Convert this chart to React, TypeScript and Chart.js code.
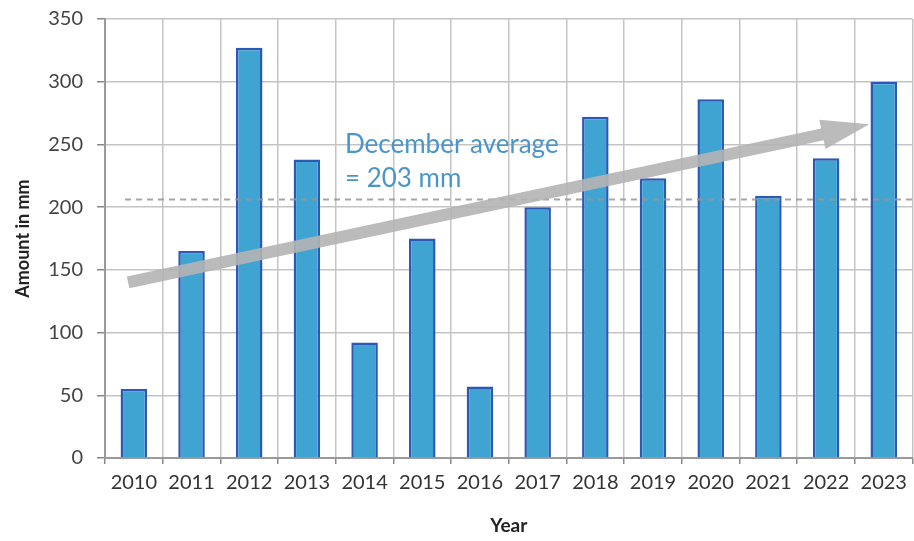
import React, { useEffect, useRef } from "react";
import { Chart, registerables } from "chart.js";

Chart.register(...registerables);

const years = ["2010", "2011", "2012", "2013", "2014", "2015", "2016", "2017", "2018", "2019", "2020", "2021", "2022", "2023"];
const amounts = [55, 165, 327, 238, 92, 175, 57, 200, 272, 223, 286, 209, 239, 300];
const averageLevel = 206;
const averageLines = ["December average", "= 203 mm"];
const trendStart = { x: -0.1, y: 140 };
const trendEnd = { x: 12.75, y: 266 };
const labelAnchor = { x: 3.66, y: 250, y2: 223 };

const FONT = "Lato, 'Open Sans', sans-serif";

const overlayPlugin = {
  id: "overlay",
  afterDatasetsDraw(chart: any) {
    const { ctx, chartArea, scales } = chart;
    const xs = scales.x;
    const ys = scales.y;
    const xPix = (v: number) => xs.getPixelForValue(0) + v * (xs.getPixelForValue(1) - xs.getPixelForValue(0));
    ctx.save();
    const yAvg = ys.getPixelForValue(averageLevel);
    ctx.strokeStyle = "rgba(150,150,150,0.85)";
    ctx.lineWidth = 2;
    ctx.setLineDash([6, 5]);
    ctx.beginPath();
    ctx.moveTo(chartArea.left + 20, yAvg);
    ctx.lineTo(chartArea.right, yAvg);
    ctx.stroke();
    ctx.setLineDash([]);

    const x1 = xPix(trendStart.x), y1 = ys.getPixelForValue(trendStart.y);
    const x2 = xPix(trendEnd.x), y2 = ys.getPixelForValue(trendEnd.y);
    const ang = Math.atan2(y2 - y1, x2 - x1);
    const headLen = 48, headW = 15, shaftW = 6;
    const bx = x2 - headLen * Math.cos(ang), by = y2 - headLen * Math.sin(ang);
    const nx = -Math.sin(ang), ny = Math.cos(ang);
    ctx.fillStyle = "rgba(180,180,180,0.9)";
    ctx.beginPath();
    ctx.moveTo(x1 + nx * shaftW, y1 + ny * shaftW);
    ctx.lineTo(bx + nx * shaftW, by + ny * shaftW);
    ctx.lineTo(bx + nx * headW, by + ny * headW);
    ctx.lineTo(x2, y2);
    ctx.lineTo(bx - nx * headW, by - ny * headW);
    ctx.lineTo(bx - nx * shaftW, by - ny * shaftW);
    ctx.lineTo(x1 - nx * shaftW, y1 - ny * shaftW);
    ctx.closePath();
    ctx.fill();

    ctx.fillStyle = "#4a95cc";
    ctx.font = `26px ${FONT}`;
    ctx.textAlign = "left";
    ctx.textBaseline = "middle";
    const tx = xPix(labelAnchor.x);
    ctx.fillText(averageLines[0], tx, ys.getPixelForValue(labelAnchor.y));
    ctx.fillText(averageLines[1], tx, ys.getPixelForValue(labelAnchor.y2));
    ctx.restore();
  },
};

export default function App() {
  const ref = useRef<HTMLCanvasElement>(null);
  useEffect(() => {
    document.body.style.margin = "0";
    const chart = new Chart(ref.current!, {
      type: "bar",
      data: {
        labels: years,
        datasets: [
          {
            data: amounts,
            backgroundColor: "#3fa4d2",
            borderColor: "#2d58b5",
            borderWidth: 2.5,
            barPercentage: 0.46,
            categoryPercentage: 1,
          },
        ],
      },
      options: {
        animation: false,
        responsive: false,
        maintainAspectRatio: false,
        layout: { padding: { top: 19, right: 1, left: 12, bottom: 0 } },
        plugins: { legend: { display: false }, tooltip: { enabled: false } },
        scales: {
          x: {
            grid: { color: "#c4c4c4", lineWidth: 1.5, tickLength: 6, tickColor: "#888", offset: true },
            border: { color: "#9a9a9a", width: 2 },
            ticks: { color: "#333", font: { family: FONT, size: 20 }, padding: 7, maxRotation: 0, autoSkip: false },
            title: { display: true, text: "Year", color: "#222", font: { family: FONT, size: 19, weight: "bold" }, padding: { top: 12 } },
            afterFit: (s: any) => { s.height = 83; },
          },
          y: {
            min: 0,
            max: 350,
            ticks: { stepSize: 50, color: "#444", font: { family: FONT, size: 20 }, padding: 14 },
            grid: { color: "#c4c4c4", lineWidth: 1.5, tickLength: 8, tickColor: "#888" },
            border: { color: "#9a9a9a", width: 2 },
            title: { display: true, text: "Amount in mm", color: "#222", font: { family: FONT, size: 18, weight: "bold" }, padding: 0 },
            afterFit: (s: any) => { s.width = 93; s.paddingTop = 8; s.paddingBottom = 0; },
          },
        },
      } as any,
      plugins: [overlayPlugin],
    });
    return () => chart.destroy();
  }, []);
  return (
    <div style={{ position: "fixed", left: 0, top: 0, width: 914, height: 541, background: "#fff" }}>
      <canvas ref={ref} width={914} height={541} style={{ width: 914, height: 541 }} />
    </div>
  );
}
